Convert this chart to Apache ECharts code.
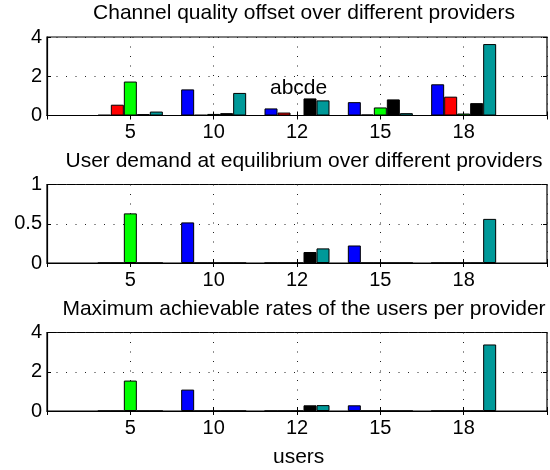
<!DOCTYPE html>
<html>
<head>
<meta charset="utf-8">
<script src="https://cdn.jsdelivr.net/npm/echarts@6/dist/echarts.min.js"></script>
<style>
  html, body { margin: 0; padding: 0; background: #fff; }
  #main { width: 550px; height: 470px; }
</style>
</head>
<body>
<div id="main"></div>
<script>
// x tick labels (groups of users)
const users = ['5', '10', '12', '15', '18'];
const providers = ['a', 'b', 'c', 'd', 'e'];

// channel quality offset, one array per provider
const offsetA = [0.03, 1.33, 0.36, 0.68, 1.59];
const offsetB = [0.55, 0.03, 0.15, 0.05, 0.96];
const offsetC = [1.73, 0.08, 0, 0.41, 0.10];
const offsetD = [0.07, 0.12, 0.87, 0.82, 0.63];
const offsetE = [0.20, 1.15, 0.77, 0.12, 3.64];

// user demand at equilibrium
const demandA = [0, 0.517, 0, 0.223, 0];
const demandB = [0, 0, 0, 0, 0];
const demandC = [0.632, 0, 0, 0, 0];
const demandD = [0, 0, 0.14, 0, 0];
const demandE = [0, 0, 0.186, 0, 0.562];

// maximum achievable rates
const rateA = [0, 1.09, 0, 0.29, 0];
const rateB = [0, 0, 0, 0, 0];
const rateC = [1.55, 0, 0, 0, 0];
const rateD = [0, 0, 0.29, 0, 0];
const rateE = [0, 0, 0.30, 0, 3.39];

const titles = [
    'Channel quality offset over different providers',
    'User demand at equilibrium over different providers',
    'Maximum achievable rates of the users per provider'
];
const yMax = [4, 1, 4];
const yStep = [2, 0.5, 2];

const colors = ['#0000ff', '#ff0000', '#00ff00', '#000000', '#009999'];
const font = 'Liberation Sans, Arial, Helvetica, sans-serif';

// padded so the groups sit at 1..5 on a 0..6 axis (like matlab)
const cats = [''].concat(users, ['']);
const pad = arr => [null].concat(arr, [null]);

const chart = echarts.init(document.getElementById('main'));

const plots = [
    [offsetA, offsetB, offsetC, offsetD, offsetE],
    [demandA, demandB, demandC, demandD, demandE],
    [rateA, rateB, rateC, rateD, rateE]
];
const gridTops = [37, 184.5, 332.5];
const gridH = 78.5;

const grid = [], xAxis = [], yAxis = [], series = [], title = [];
const xMirror = [], yMirror = [];
const dotted = { color: '#222', width: 1, type: [1, 8.5] };
const tick = { show: true, inside: true, length: 4, lineStyle: { color: '#000' } };

plots.forEach((sets, i) => {
    grid.push({
        left: 47, right: 1, top: gridTops[i], height: gridH,
        show: true, borderColor: '#000', borderWidth: 1.2
    });
    title.push({
        text: titles[i], left: 299, textAlign: 'center',
        top: gridTops[i] - 39,
        textStyle: { fontFamily: font, fontSize: 21, fontWeight: 'normal', color: '#000' }
    });
    xAxis.push({
        type: 'category', gridIndex: i, data: cats, boundaryGap: false,
        axisLine: { lineStyle: { color: '#000', width: 1.2 } },
        axisTick: tick,
        axisLabel: { color: '#000', fontFamily: font, fontSize: 20, margin: 7 },
        splitLine: { show: true, lineStyle: dotted }
    });
    yAxis.push({
        type: 'value', gridIndex: i, min: 0, max: yMax[i], interval: yStep[i],
        axisLine: { show: true, lineStyle: { color: '#000', width: 1.2 } },
        axisTick: tick,
        axisLabel: { color: '#000', fontFamily: font, fontSize: 20, margin: 5 },
        splitLine: { show: true, lineStyle: dotted }
    });
    // box ticks on top and right, matlab style
    xMirror.push({
        type: 'category', gridIndex: i, data: cats, boundaryGap: false, position: 'top',
        axisLine: { show: false }, axisTick: tick, axisLabel: { show: false },
        splitLine: { show: false }
    });
    yMirror.push({
        type: 'value', gridIndex: i, min: 0, max: yMax[i], interval: yStep[i], position: 'right',
        axisLine: { show: false }, axisTick: tick, axisLabel: { show: false },
        splitLine: { show: false }
    });
    sets.forEach((vals, k) => {
        series.push({
            name: providers[k], type: 'bar', xAxisIndex: i, yAxisIndex: i,
            data: pad(vals),
            barGap: '0%', barCategoryGap: '22%',
            itemStyle: { color: colors[k], borderColor: '#000', borderWidth: 1 },
            animation: false
        });
    });
});

const option = {
    backgroundColor: '#fff',
    animation: false,
    title: title,
    grid: grid,
    xAxis: xAxis.concat(xMirror),
    yAxis: yAxis.concat(yMirror),
    series: series,
    graphic: [
        {
            type: 'text', left: 270, top: 77.5,
            style: { text: 'abcde', font: '21px ' + font, fill: '#000' }
        },
        {
            type: 'text', left: 273, top: 447,
            style: { text: 'users', font: '21px ' + font, fill: '#000' }
        }
    ]
};

chart.setOption(option);
</script>
</body>
</html>
